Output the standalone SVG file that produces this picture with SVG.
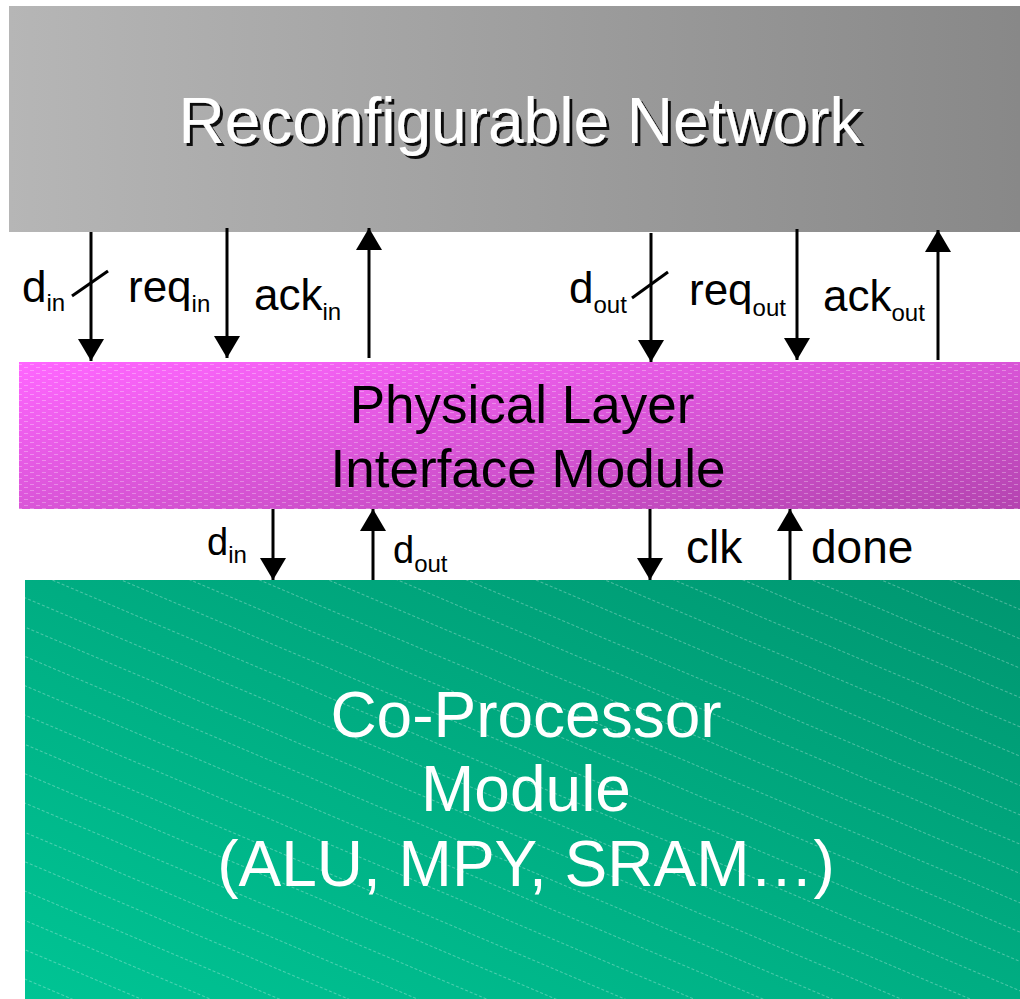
<svg xmlns="http://www.w3.org/2000/svg" width="1020" height="999" viewBox="0 0 1020 999">
  <defs>
    <linearGradient id="gGray" x1="0" y1="0" x2="1" y2="0">
      <stop offset="0" stop-color="#b6b6b6"/>
      <stop offset="1" stop-color="#888888"/>
    </linearGradient>
    <linearGradient id="gPink" x1="0" y1="0" x2="1" y2="1">
      <stop offset="0" stop-color="#ff66ff"/>
      <stop offset="1" stop-color="#b444b0"/>
    </linearGradient>
    <linearGradient id="gGreen" x1="0" y1="1" x2="1" y2="0">
      <stop offset="0" stop-color="#00c494"/>
      <stop offset="1" stop-color="#009670"/>
    </linearGradient>
    <pattern id="pDash" width="12" height="6" patternUnits="userSpaceOnUse">
      <line x1="0" y1="1.5" x2="4" y2="1.5" stroke="#ffffff" stroke-opacity="0.3" stroke-width="1"/>
      <line x1="6" y1="4.5" x2="10" y2="4.5" stroke="#ffffff" stroke-opacity="0.3" stroke-width="1"/>
    </pattern>
    <pattern id="pDiag" width="60" height="27" patternUnits="userSpaceOnUse" patternTransform="rotate(23)">
      <line x1="0" y1="0.5" x2="60" y2="0.5" stroke="#ffffff" stroke-opacity="0.3" stroke-width="1" stroke-dasharray="3 2"/>
    </pattern>
    <marker id="ah" viewBox="0 0 22 26" refX="22" refY="13" markerWidth="22" markerHeight="26" markerUnits="userSpaceOnUse" orient="auto">
      <path d="M0,0 L22,13 L0,26 Z" fill="#000"/>
    </marker>
    <filter id="shadow" x="-5%" y="-20%" width="110%" height="140%">
      <feOffset dx="2.5" dy="2.5" in="SourceAlpha" result="o"/>
      <feFlood flood-color="#111"/>
      <feComposite in2="o" operator="in" result="s"/>
      <feMerge><feMergeNode in="s"/><feMergeNode in="SourceGraphic"/></feMerge>
    </filter>
  </defs>
  <style>
    text { font-family: "Liberation Sans", Arial, sans-serif; }
    .lbl { font-size: 44px; fill: #000; }
    .lbl2 { font-size: 46px; fill: #000; }
    .lbl3 { font-size: 38px; fill: #000; }
    .sub { font-size: 24px; }
    .wire { stroke: #000; stroke-width: 3; fill: none; marker-end: url(#ah); }
    .slash { stroke: #000; stroke-width: 3; fill: none; }
  </style>

  <g id="network">
    <rect x="9" y="6" width="1011" height="226" fill="url(#gGray)"/>
    <text x="520" y="143" text-anchor="middle" font-size="64" fill="#ffffff" filter="url(#shadow)">Reconfigurable Network</text>
  </g>

  <g id="phy">
    <rect x="19" y="362" width="1001" height="147" fill="url(#gPink)"/>
    <rect x="19" y="362" width="1001" height="147" fill="url(#pDash)"/>
    <text x="522" y="423" text-anchor="middle" font-size="53" fill="#000">Physical Layer</text>
    <text x="528" y="487" text-anchor="middle" font-size="53" fill="#000">Interface Module</text>
  </g>

  <g id="coproc">
    <rect x="25" y="580" width="995" height="419" fill="url(#gGreen)"/>
    <rect x="25" y="580" width="995" height="419" fill="url(#pDiag)"/>
    <text x="526" y="737" text-anchor="middle" font-size="64" fill="#ffffff">Co-Processor</text>
    <text x="526" y="811" text-anchor="middle" font-size="64" fill="#ffffff">Module</text>
    <text x="526" y="886" text-anchor="middle" font-size="64" fill="#ffffff">(ALU, MPY, SRAM…)</text>
  </g>

  <g id="connectors">
    <!-- network <-> physical layer -->
    <line class="wire" x1="91" y1="232" x2="91" y2="361"/>
    <line class="slash" x1="72" y1="296" x2="108" y2="271"/>
    <line class="wire" x1="227" y1="228" x2="227" y2="358"/>
    <line class="wire" x1="369" y1="358" x2="369" y2="228"/>
    <line class="wire" x1="651" y1="233" x2="651" y2="362"/>
    <line class="slash" x1="632" y1="298" x2="668" y2="272"/>
    <line class="wire" x1="797" y1="229" x2="797" y2="360"/>
    <line class="wire" x1="938" y1="360" x2="938" y2="230"/>
    <!-- physical layer <-> co-processor -->
    <line class="wire" x1="273" y1="509" x2="273" y2="580"/>
    <line class="wire" x1="373" y1="580" x2="373" y2="509"/>
    <line class="wire" x1="650" y1="509" x2="650" y2="580"/>
    <line class="wire" x1="790" y1="580" x2="790" y2="509"/>
  </g>

  <g id="labels">
    <text class="lbl" x="22" y="302">d<tspan class="sub" dy="9">in</tspan></text>
    <text class="lbl" x="128" y="302">req<tspan class="sub" dy="10">in</tspan></text>
    <text class="lbl" x="254" y="310">ack<tspan class="sub" dy="10">in</tspan></text>
    <text class="lbl" x="569" y="303">d<tspan class="sub" dy="10">out</tspan></text>
    <text class="lbl" x="689" y="305">req<tspan class="sub" dy="11">out</tspan></text>
    <text class="lbl" x="823" y="311">ack<tspan class="sub" dy="10">out</tspan></text>
    <text class="lbl3" x="207" y="555">d<tspan class="sub" dy="8">in</tspan></text>
    <text class="lbl3" x="393" y="563">d<tspan class="sub" dy="9">out</tspan></text>
    <text class="lbl2" x="686" y="563">clk</text>
    <text class="lbl2" x="811" y="563">done</text>
  </g>
</svg>
